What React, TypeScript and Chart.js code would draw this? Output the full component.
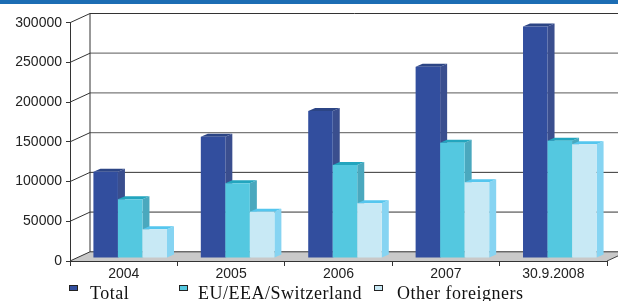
import { useEffect, useRef } from "react";
import { Chart, registerables } from "chart.js";

Chart.register(...registerables);

// ---- data ----
const categories = ["2004", "2005", "2006", "2007", "30.9.2008"];
const seriesLabels = ["Total", "EU/EEA/Switzerland", "Other foreigners"];
const totalValues = [108700, 152800, 185100, 240900, 291300];
const euValues = [73900, 94100, 117100, 145200, 147700];
const otherValues = [36100, 58300, 68900, 95300, 143200];
const yMin = 0;
const yMax = 300000;
const yStep = 50000;

// ---- styles ----
const frontColors = ["#324e9e", "#54c8e0", "#c8e9f5"];
const sideColors = ["#3a4e8e", "#4aa8be", "#86d4f2"];
const topColors = ["#2c4585", "#22a5be", "#55c6ee"];

const WALL_DX = 20;
const WALL_DY = -9.2;
const BAR_DX = 6.5;
const BAR_DY = -3;
const DEPTH_DX = 7;
const DEPTH_DY = -3;

const pseudo3d = {
  id: "pseudo3d",
  beforeDraw(chart: any) {
    const { ctx, chartArea: a } = chart;
    const y = chart.scales.y;
    const y0 = y.getPixelForValue(0);
    const yTop = y.getPixelForValue(yMax);
    ctx.save();
    // floor
    ctx.fillStyle = "#c9c9c9";
    ctx.beginPath();
    ctx.moveTo(a.left, y0);
    ctx.lineTo(a.right, y0);
    ctx.lineTo(a.right + WALL_DX, y0 + WALL_DY);
    ctx.lineTo(a.left + WALL_DX, y0 + WALL_DY);
    ctx.closePath();
    ctx.fill();
    ctx.lineWidth = 1;
    ctx.strokeStyle = "#444";
    ctx.beginPath();
    ctx.moveTo(a.right, y0);
    ctx.lineTo(a.right + WALL_DX, y0 + WALL_DY);
    ctx.stroke();
    // back wall gridlines & left wall diagonals
    const ticks = y.ticks.map((t: any) => t.value);
    ticks.forEach((v: number) => {
      const yf = y.getPixelForValue(v);
      const yb = yf + WALL_DY;
      const gray = v >= 150000 && v < yMax;
      ctx.strokeStyle = gray ? "#7a7a7a" : "#333";
      ctx.lineWidth = gray ? 1.3 : 1;
      ctx.beginPath();
      ctx.moveTo(a.left + WALL_DX, yb);
      ctx.lineTo(a.right + WALL_DX, yb);
      ctx.stroke();
      ctx.strokeStyle = "#333";
      ctx.lineWidth = 1;
      ctx.beginPath();
      ctx.moveTo(a.left, yf);
      ctx.lineTo(a.left + WALL_DX, yb);
      ctx.stroke();
    });
    ctx.strokeStyle = "#333";
    ctx.beginPath();
    ctx.moveTo(a.left + WALL_DX, yTop + WALL_DY);
    ctx.lineTo(a.left + WALL_DX, y0 + WALL_DY);
    ctx.stroke();
    ctx.restore();
  },
  // Chart.js draws datasets last-to-first; skip that and draw them first-to-last
  // (left bar before right bar) so the 3D side faces overlap correctly.
  beforeDatasetDraw() {
    return false;
  },
  afterDatasetsDraw(chart: any) {
    const { ctx } = chart;
    chart.data.datasets.forEach((_ds: any, i: number) => {
      const meta = chart.getDatasetMeta(i);
      if (!meta.visible) return;
      ctx.save();
      ctx.translate(BAR_DX, BAR_DY);
      meta.data.forEach((el: any) => {
        const { x, y, base, width } = el.getProps(["x", "y", "base", "width"], true);
        const l = x - width / 2;
        const r = x + width / 2;
        // side face
        ctx.fillStyle = sideColors[i];
        ctx.beginPath();
        ctx.moveTo(r, y);
        ctx.lineTo(r + DEPTH_DX, y + DEPTH_DY);
        ctx.lineTo(r + DEPTH_DX, base + DEPTH_DY);
        ctx.lineTo(r, base);
        ctx.closePath();
        ctx.fill();
        // top face
        ctx.fillStyle = topColors[i];
        ctx.beginPath();
        ctx.moveTo(l, y);
        ctx.lineTo(l + DEPTH_DX, y + DEPTH_DY);
        ctx.lineTo(r + DEPTH_DX, y + DEPTH_DY);
        ctx.lineTo(r, y);
        ctx.closePath();
        ctx.fill();
      });
      // front faces drawn by the library's bar controller
      meta.controller.draw();
      ctx.restore();
    });
  },
  afterDraw(chart: any) {
    const { ctx } = chart;
    const markerX = [69, 179, 374];
    const textX = [90, 198, 397];
    ctx.save();
    ctx.font = "18px 'Liberation Serif', 'Times New Roman', serif";
    (ctx as any).letterSpacing = "0.5px";
    ctx.textBaseline = "alphabetic";
    chart.data.datasets.forEach((ds: any, i: number) => {
      ctx.fillStyle = frontColors[i];
      ctx.fillRect(markerX[i], 285.5, 8, 5);
      ctx.strokeStyle = "#222";
      ctx.lineWidth = 1;
      ctx.strokeRect(markerX[i] + 0.5, 285.5, 8, 5);
      ctx.fillStyle = "#111";
      ctx.fillText(ds.label, textX[i], 298.5);
    });
    ctx.restore();
  },
};

export default function App() {
  const ref = useRef<HTMLCanvasElement>(null);
  useEffect(() => {
    const canvas = ref.current!;
    const values = [totalValues, euValues, otherValues];
    const chart = new Chart(canvas, {
      type: "bar",
      data: {
        labels: categories,
        datasets: seriesLabels.map((label, i) => ({
          label,
          data: values[i],
          backgroundColor: frontColors[i],
          borderWidth: 0,
          categoryPercentage: 0.685,
          barPercentage: 1,
        })),
      },
      options: {
        responsive: false,
        animation: false,
        devicePixelRatio: 1,
        layout: { padding: { top: 22.7, right: 11, left: 0, bottom: 0 } },
        plugins: {
          legend: { display: false },
          tooltip: { enabled: false },
          title: { display: false },
        },
        scales: {
          x: {
            grid: {
              drawOnChartArea: false,
              drawTicks: true,
              tickLength: 5,
              color: "#333",
              offset: true,
            },
            border: { display: true, color: "#333", width: 1 },
            ticks: {
              color: "#222",
              padding: 0,
              font: { family: "'Liberation Sans', Arial, sans-serif", size: 14 },
              maxRotation: 0,
            },
            afterFit: (s: any) => {
              s.height = 40;
            },
          },
          y: {
            min: yMin,
            max: yMax,
            grid: {
              drawOnChartArea: false,
              drawTicks: true,
              tickLength: 4,
              color: "#333",
            },
            border: { display: true, color: "#333", width: 1 },
            ticks: {
              stepSize: yStep,
              color: "#222",
              padding: 4,
              font: { family: "'Liberation Sans', Arial, sans-serif", size: 14 },
              callback: (v: any) => String(v),
            },
            afterFit: (s: any) => {
              s.width = 70;
            },
          },
        },
      },
      plugins: [pseudo3d],
    });
    return () => chart.destroy();
  }, []);
  return (
    <div style={{ position: "fixed", left: 0, top: 0, width: 618, height: 301, background: "#fff" }}>
      <canvas ref={ref} width={618} height={301} style={{ display: "block" }} />
      <div style={{ position: "absolute", left: 0, top: 0, width: 618, height: 4, background: "#1c6db4" }} />
    </div>
  );
}
